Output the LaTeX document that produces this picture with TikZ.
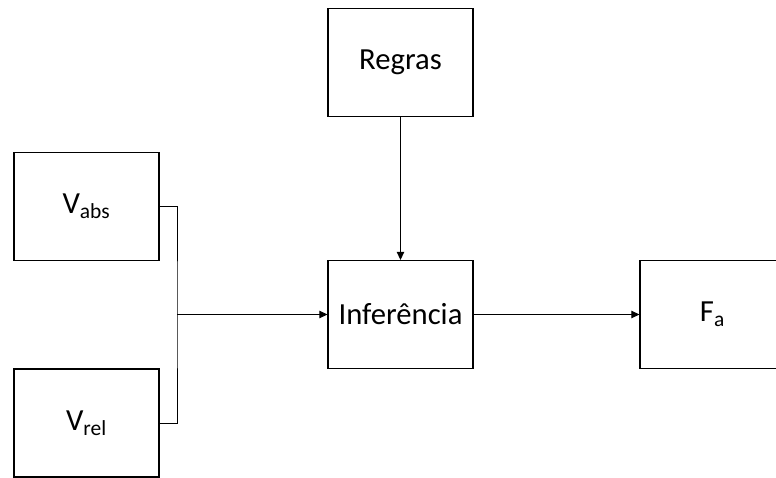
\documentclass[tikz,border=0pt]{standalone}
\usepackage{fontspec}
\setmainfont{Carlito}
\usetikzlibrary{arrows.meta,positioning}
\tikzset{
  block/.style={draw=black,fill=white,line width=0.8pt,
                minimum width=108.75pt,minimum height=81pt,inner sep=0pt,
                font=\fontsize{23}{28}\selectfont},
  flowarr/.style={-{Triangle[length=6pt,width=5.5pt]},line width=0.75pt},
  joinline/.style={line width=0.75pt}
}
\begin{document}
\begin{tikzpicture}[x=0.75pt,y=-0.75pt]
  \useasboundingbox (0,0) rectangle (776,478);
  \clip (0,0) rectangle (776,478);
  \node[block] (regras) at (400.5,62.5) {Regras};
  \node[block] (vabs) at (86.5,206.5) {V\textsubscript{abs}};
  \node[block] (vrel) at (86.5,423) {V\textsubscript{rel}};
  \node[block] (infer) at (400.5,314.5) {Inferência};
  \node[block] (fa) at (712.5,314.5) {F\textsubscript{a}};
  % the two inputs meet before entering the inference block
  \coordinate (join) at (177,314.5);
  \draw[joinline] (vabs.east) -| (join) |- (vrel.east);
  \draw[flowarr] (join) -- (infer.west);
  \draw[flowarr] (regras) -- (infer);
  \draw[flowarr] (infer) -- (fa);
\end{tikzpicture}
\end{document}
